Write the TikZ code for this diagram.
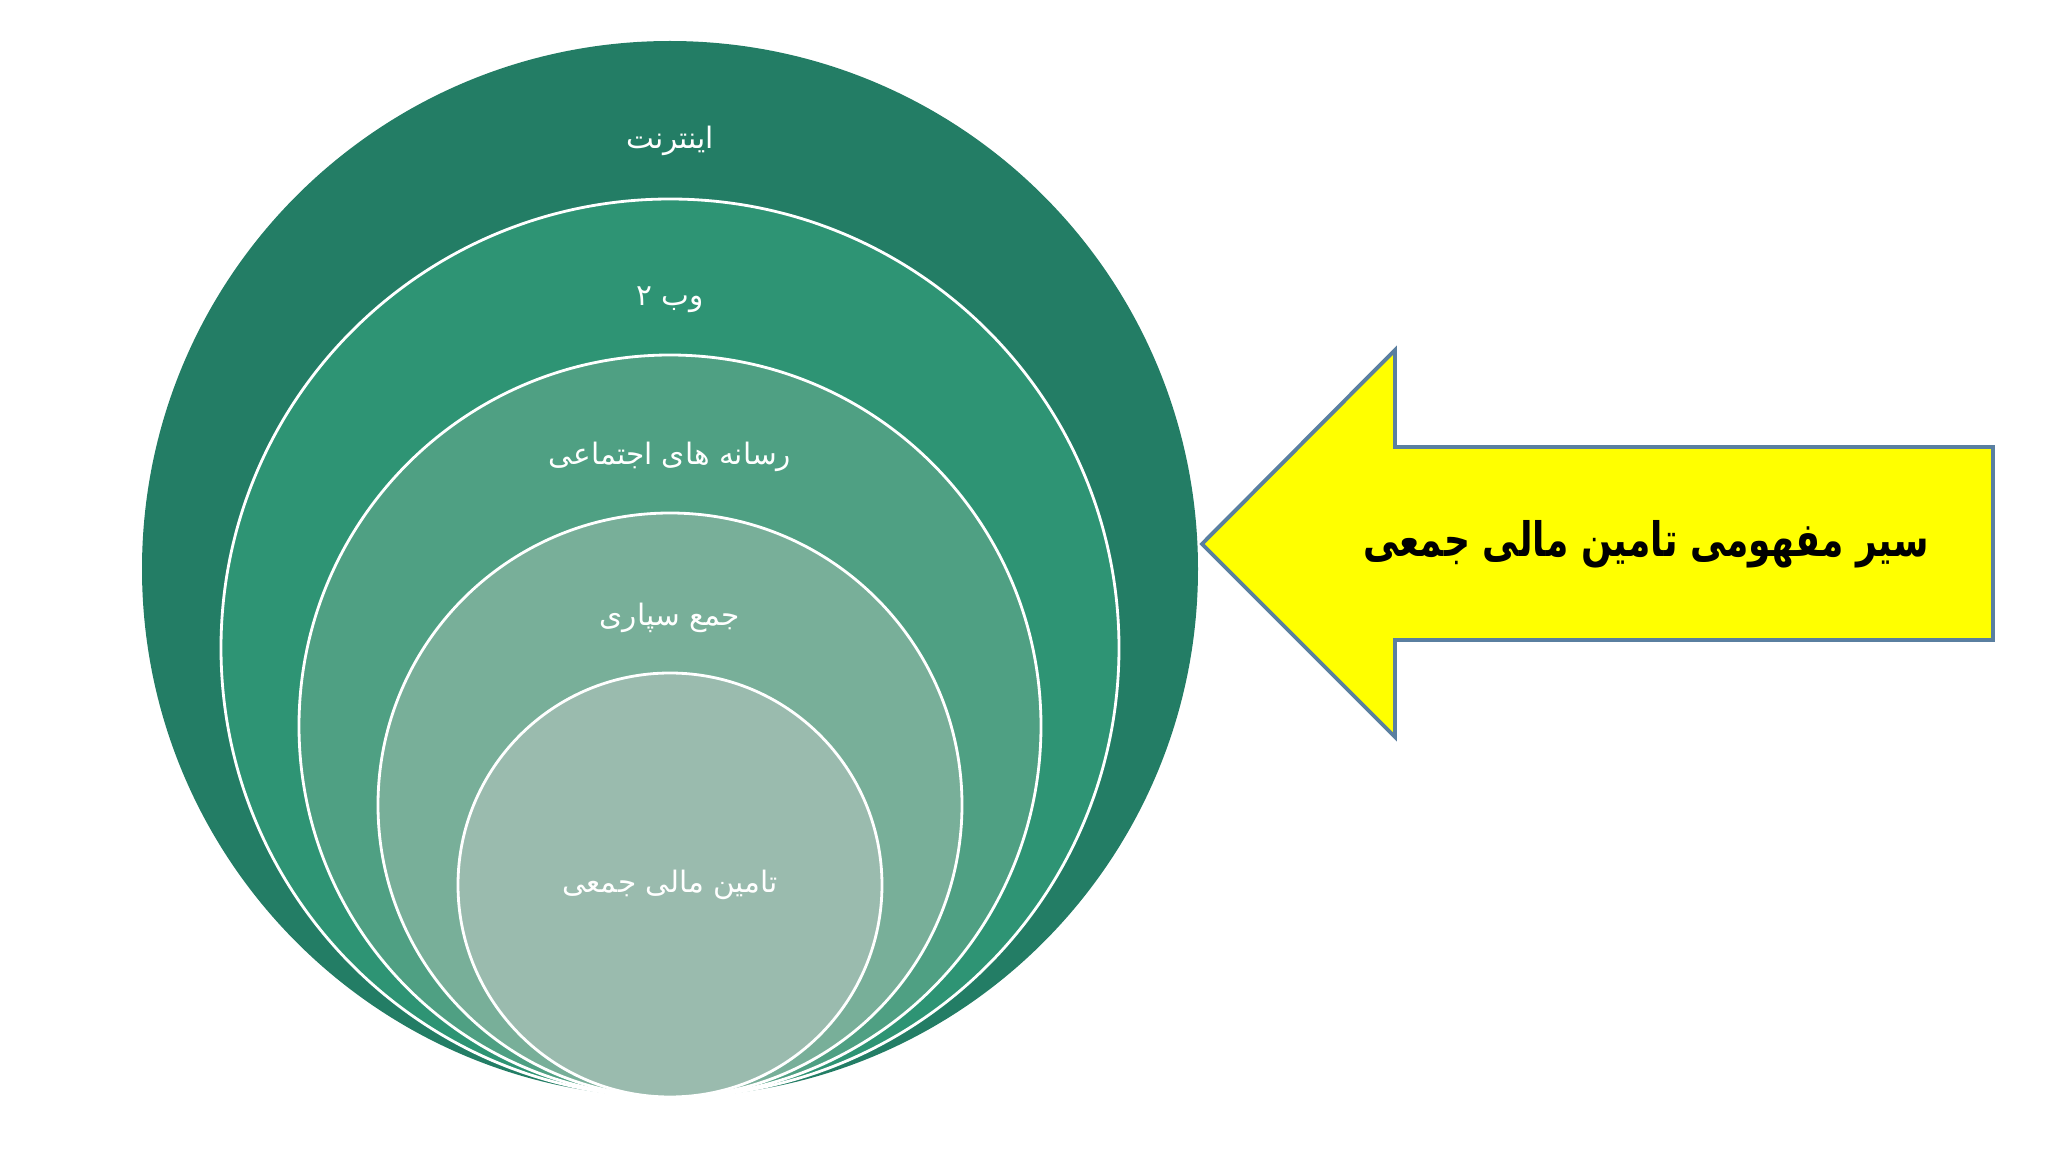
\documentclass[tikz,border=0pt]{standalone}
\usepackage{fontspec}
\usepackage{graphicx}
\TeXXeTstate=1
\newfontfamily\arabicfont[Script=Arabic]{DejaVu Sans}
\definecolor{cA}{HTML}{237D65}
\definecolor{cB}{HTML}{2E9474}
\definecolor{cC}{HTML}{4FA083}
\definecolor{cD}{HTML}{78AF99}
\definecolor{cE}{HTML}{9ABBAE}
\definecolor{arrowedge}{HTML}{5A7FA0}
\definecolor{arrowfill}{HTML}{FFFF00}
\begin{document}
\begin{tikzpicture}[x=1cm,y=1cm]
\tikzset{
  ring/.style={circle, draw=white, line width=0.8pt, inner sep=0pt},
  lbl/.style={text=white, inner sep=1pt, font=\arabicfont\fontsize{8.4}{10}\selectfont},
  titletext/.style={text=black, inner sep=1pt, font=\arabicfont\bfseries\fontsize{13.5}{16}\selectfont},
  bigarrow/.style={draw=arrowedge, fill=arrowfill, line width=1.1pt, line join=miter}
}
\useasboundingbox (0,0) rectangle (20.48,-11.52);
% nested circles, tangent at the bottom (y = -10.97)
\node[ring, fill=cA, draw=none, minimum size=10.56cm] (r1) at (6.70,-5.69) {};
\node[ring, fill=cB, minimum size=8.98cm] (r2) at (6.70,-6.48) {};
\node[ring, fill=cC, minimum size=7.42cm] (r3) at (6.70,-7.26) {};
\node[ring, fill=cD, minimum size=5.84cm] (r4) at (6.70,-8.05) {};
\node[ring, fill=cE, minimum size=4.24cm] (r5) at (6.70,-8.85) {};
% labels
\node[lbl] (t1) at (6.70,-1.41) {\beginR اینترنت\endR};
\node[lbl] (t2) at (6.70,-3.00) {\beginR وب ۲\endR};
\node[lbl] (t3) at (6.70,-4.57) {\beginR رسانه های اجتماعی\endR};
\node[lbl] (t4) at (6.70,-6.18) {\beginR جمع سپاری\endR};
\node[lbl] (t5) at (6.70,-8.85) {\beginR تامین مالی جمعی\endR};
% arrow
\coordinate (tip) at (12.02,-5.44);
\draw[bigarrow] (tip) -- (13.95,-3.50) -- (13.95,-4.47) -- (19.93,-4.47)
  -- (19.93,-6.40) -- (13.95,-6.40) -- (13.95,-7.37) -- cycle;
\node[titletext] (title) at (16.46,-5.44) {\scalebox{0.76}[1]{\beginR سیر مفهومی تامین مالی جمعی\endR}};
\end{tikzpicture}
\end{document}
